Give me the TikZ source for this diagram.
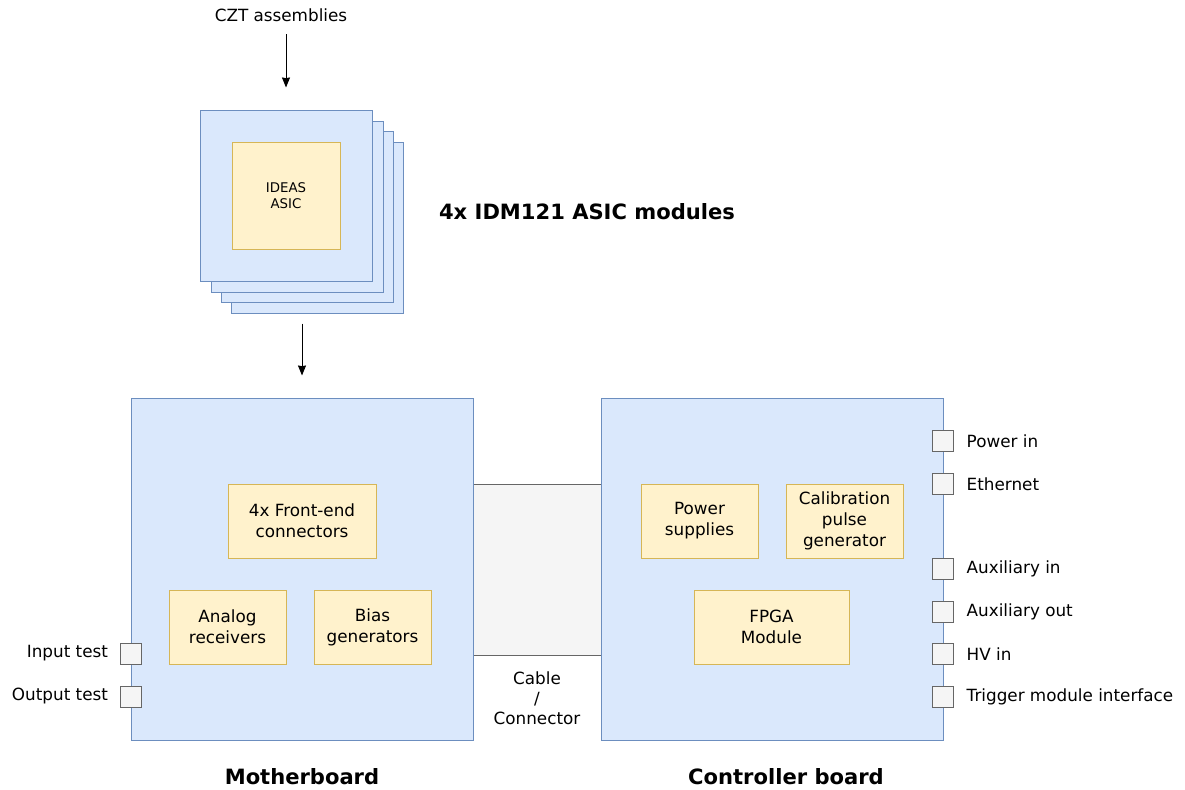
\documentclass[tikz,border=0pt]{standalone}
\usepackage{fontspec}
\setmainfont{DejaVu Sans}
\usetikzlibrary{arrows.meta,positioning}
\definecolor{bluefill}{HTML}{DAE8FC}
\definecolor{blueline}{HTML}{6C8EBF}
\definecolor{yellowfill}{HTML}{FFF2CC}
\definecolor{yellowline}{HTML}{D6B656}
\definecolor{grayfill}{HTML}{F5F5F5}
\definecolor{grayline}{HTML}{666666}

\begin{document}
\begin{tikzpicture}[
  x=0.75pt, y=-0.75pt,
  font=\fontsize{12.6}{15.75}\selectfont,
  board/.style={draw=blueline, fill=bluefill, line width=0.75pt, minimum width=256.5pt, minimum height=256.5pt, inner sep=0pt},
  card/.style={draw=blueline, fill=bluefill, line width=0.75pt, minimum width=129pt, minimum height=128.25pt, inner sep=0pt},
  block/.style={draw=yellowline, fill=yellowfill, line width=0.75pt, align=center, minimum width=87.75pt, minimum height=55.5pt, inner sep=1pt},
  port/.style={draw=grayline, fill=grayfill, line width=0.75pt, minimum size=15.75pt, inner sep=0pt},
  title/.style={font=\fontsize{15.8}{19}\selectfont\bfseries},
  arr/.style={-{Stealth[length=7.5pt,width=6pt,inset=0.5pt]}, line width=0.75pt}
]
  \useasboundingbox (0,0) rectangle (1185,789);

  % ASIC module stack
  \node (czt) at (281,15) {CZT assemblies};
  \node[card] (card4) at (317.5,227.5) {};
  \node[card] (card3) at (307.5,216.5) {};
  \node[card] (card2) at (297,206.5) {};
  \node[card] (card1) at (286,195.5) {};
  \node[block, minimum width=81pt, minimum height=80.25pt, font=\fontsize{10}{12}\selectfont] (asic) at (286,195.5) {IDEAS\\ASIC};
  \node[title] (modules) at (587,212) {4x IDM121 ASIC modules};

  % cable between boards
  \node[draw=grayline, fill=grayfill, line width=0.75pt, minimum width=96pt, minimum height=128.25pt, inner sep=0pt] (cable) at (537,569.5) {};
  \node[align=center, font=\fontsize{12.6}{15}\selectfont] (cablelbl) at (537,698) {Cable\\/\\Connector};

  % boards
  \node[board] (mother) at (302,569) {};
  \node[board] (ctrl) at (772,569) {};
  \node[title] (motherlbl) at (302,777) {Motherboard};
  \node[title] (ctrllbl) at (786,777) {Controller board};

  % motherboard blocks
  \node[block, minimum width=111pt] (frontend) at (302,521) {4x Front-end\\connectors};
  \node[block] (analog) at (227.5,627) {Analog\\receivers};
  \node[block] (bias) at (372.5,627) {Bias\\generators};

  % controller blocks
  \node[block] (power) at (699.5,521) {Power\\supplies};
  \node[block] (calib) at (844.5,521) {Calibration\\pulse\\generator};
  \node[block, minimum width=116.25pt] (fpga) at (771.5,627) {FPGA\\Module};

  % ports
  \node[port] (intest) at (131,653.5) {};
  \node[port] (outtest) at (131,696.5) {};
  \node[left=5.5pt of intest] {Input test};
  \node[left=5.5pt of outtest] {Output test};

  \node[port] (pwrin) at (943,441) {};
  \node[port] (eth) at (943,484) {};
  \node[port] (auxin) at (943,569) {};
  \node[port] (auxout) at (943,612) {};
  \node[port] (hvin) at (943,654) {};
  \node[port] (trig) at (943,696.5) {};
  \node[right=6pt of pwrin] {Power in};
  \node[right=6pt of eth] {Ethernet};
  \node[right=6pt of auxin] {Auxiliary in};
  \node[right=6pt of auxout] {Auxiliary out};
  \node[right=6pt of hvin] {HV in};
  \node[right=6pt of trig] {Trigger module interface};

  \draw[arr, shorten <=6pt, shorten >=16.5pt] (czt.south -| card1.north) -- (card1.north);
  \draw[arr, shorten <=7.5pt, shorten >=16.5pt] (card4.south -| mother.north) -- (mother.north);
\end{tikzpicture}
\end{document}
